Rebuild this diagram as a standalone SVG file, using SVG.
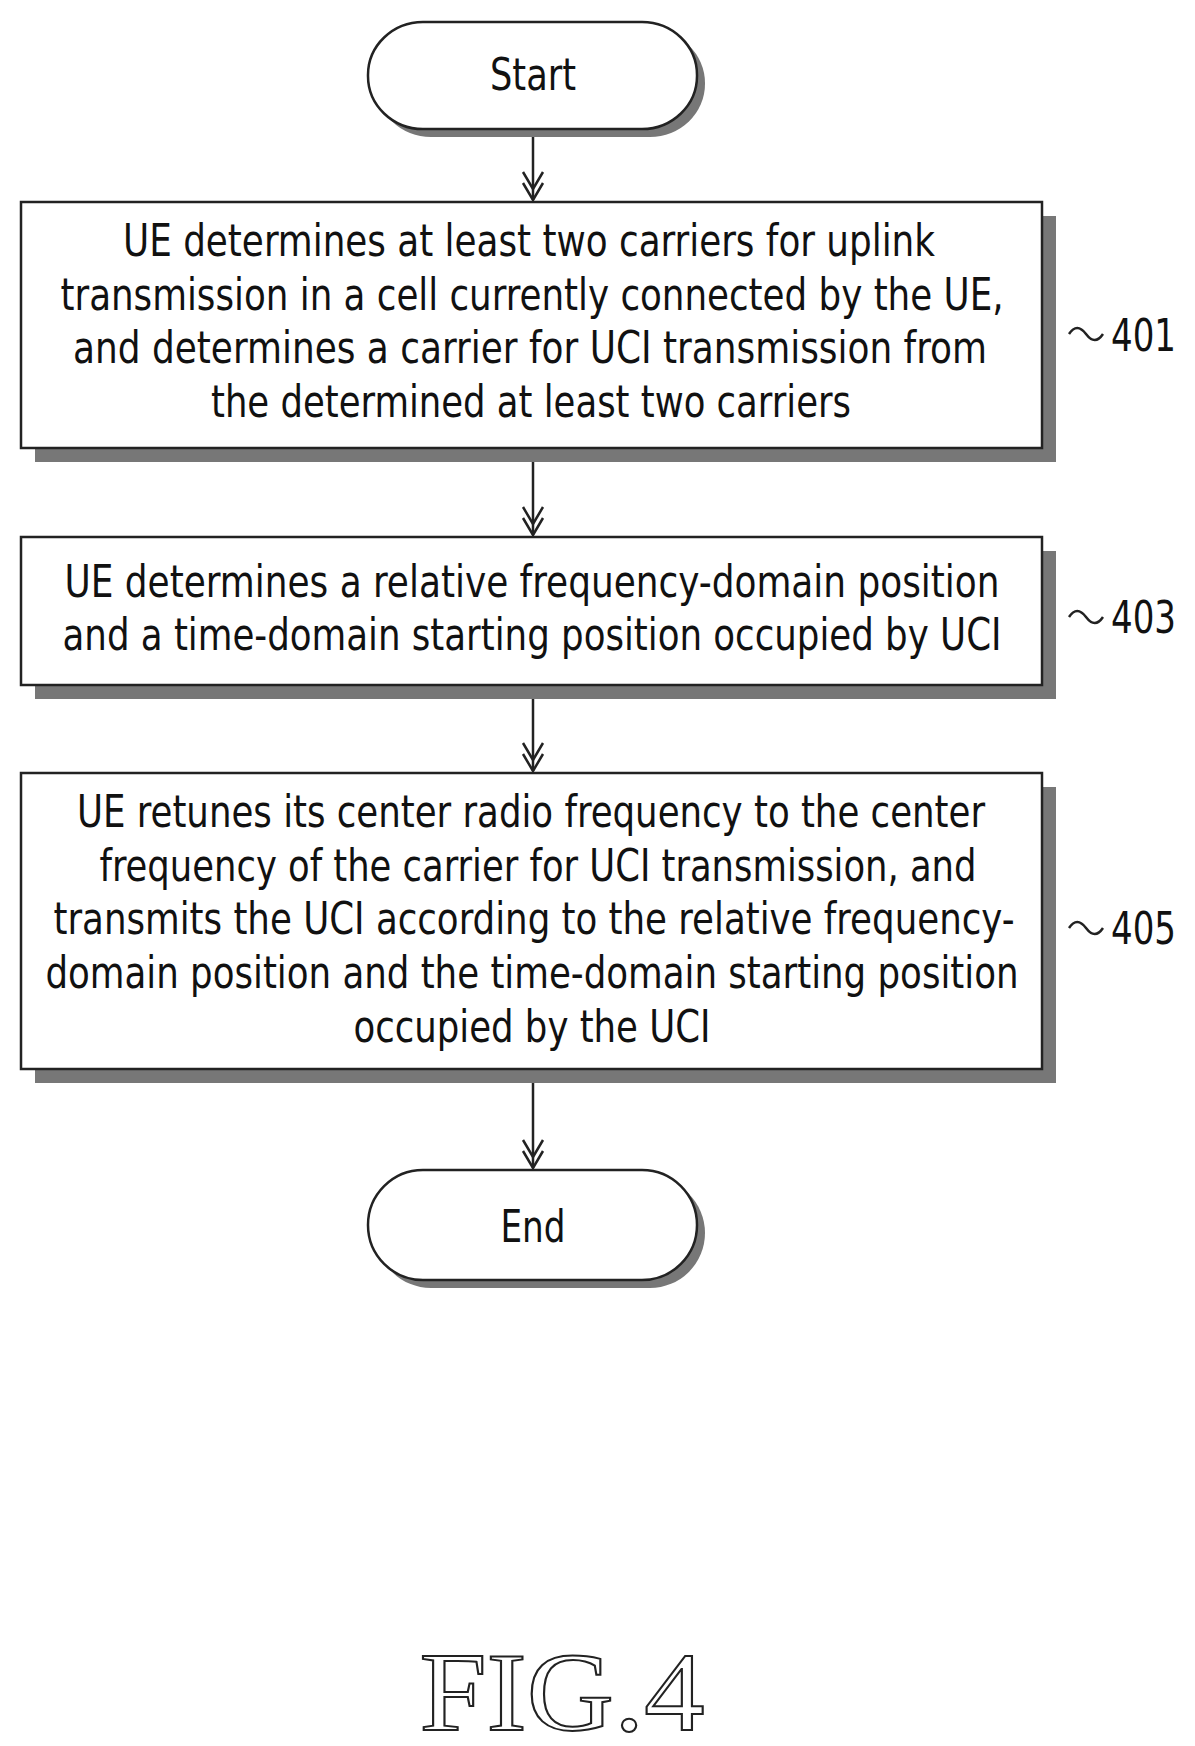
<svg xmlns="http://www.w3.org/2000/svg" width="1195" height="1746" viewBox="0 0 1195 1746">
<style>
.sh{fill:#777}
.bx{fill:#fff;stroke:#222;stroke-width:2.5}
.t{font-family:"DejaVu Sans Condensed","Liberation Sans",sans-serif;font-size:44px;fill:#111;text-anchor:middle}
.lb{font-family:"DejaVu Sans Condensed","Liberation Sans",sans-serif;font-size:44px;fill:#111}
.c{stroke:#222;stroke-width:2.5;fill:none}
.fig{font-family:"Liberation Serif",serif;font-size:112px;fill:#fff;stroke:#222;stroke-width:2;text-anchor:middle}
</style>
<g id="connectors">
<line class="c" x1="533" y1="129" x2="533" y2="200"/>
<line class="c" x1="533" y1="462" x2="533" y2="535"/>
<line class="c" x1="533" y1="699" x2="533" y2="771"/>
<line class="c" x1="533" y1="1082" x2="533" y2="1168"/>
<path class="c" d="M523,183 L533,200 L543,183 M523,172 L533,189 L543,172"/>
<path class="c" d="M523,518 L533,535 L543,518 M523,507 L533,524 L543,507"/>
<path class="c" d="M523,754 L533,771 L543,754 M523,743 L533,760 L543,743"/>
<path class="c" d="M523,1151 L533,1168 L543,1151 M523,1140 L533,1157 L543,1140"/>
<path class="c" d="M1069,334 q8,-12 17,0 t17,0"/>
<path class="c" d="M1069,617 q8,-12 17,0 t17,0"/>
<path class="c" d="M1069,928 q8,-12 17,0 t17,0"/>
</g>
<g id="start">
<rect class="sh" x="376" y="30" width="329" height="107" rx="55" ry="53"/>
<rect class="bx" x="368" y="22" width="329" height="107" rx="55" ry="53"/>
<text class="t" x="533" y="90" textLength="86" lengthAdjust="spacingAndGlyphs">Start</text>
</g>
<g id="n401">
<rect class="sh" x="35" y="216" width="1021" height="246"/>
<rect class="bx" x="21" y="202" width="1021" height="246"/>
<text class="t" x="529" y="256" textLength="812" lengthAdjust="spacingAndGlyphs">UE determines at least two carriers for uplink</text>
<text class="t" x="532" y="310" textLength="943" lengthAdjust="spacingAndGlyphs">transmission in a cell currently connected by the UE,</text>
<text class="t" x="530" y="363" textLength="914" lengthAdjust="spacingAndGlyphs">and determines a carrier for UCI transmission from</text>
<text class="t" x="531" y="417" textLength="640" lengthAdjust="spacingAndGlyphs">the determined at least two carriers</text>
<text class="lb" x="1111" y="351" textLength="65" lengthAdjust="spacingAndGlyphs">401</text>
</g>
<g id="n403">
<rect class="sh" x="35" y="551" width="1021" height="148"/>
<rect class="bx" x="21" y="537" width="1021" height="148"/>
<text class="t" x="532" y="597" textLength="935" lengthAdjust="spacingAndGlyphs">UE determines a relative frequency-domain position</text>
<text class="t" x="532" y="650" textLength="939" lengthAdjust="spacingAndGlyphs">and a time-domain starting position occupied by UCI</text>
<text class="lb" x="1111" y="633" textLength="65" lengthAdjust="spacingAndGlyphs">403</text>
</g>
<g id="n405">
<rect class="sh" x="35" y="787" width="1021" height="296"/>
<rect class="bx" x="21" y="773" width="1021" height="296"/>
<text class="t" x="531" y="827" textLength="908" lengthAdjust="spacingAndGlyphs">UE retunes its center radio frequency to the center</text>
<text class="t" x="538" y="881" textLength="877" lengthAdjust="spacingAndGlyphs">frequency of the carrier for UCI transmission, and</text>
<text class="t" x="534" y="934" textLength="961" lengthAdjust="spacingAndGlyphs">transmits the UCI according to the relative frequency-</text>
<text class="t" x="532" y="988" textLength="973" lengthAdjust="spacingAndGlyphs">domain position and the time-domain starting position</text>
<text class="t" x="532" y="1042" textLength="357" lengthAdjust="spacingAndGlyphs">occupied by the UCI</text>
<text class="lb" x="1111" y="944" textLength="65" lengthAdjust="spacingAndGlyphs">405</text>
</g>
<g id="end">
<rect class="sh" x="376" y="1178" width="329" height="110" rx="55" ry="55"/>
<rect class="bx" x="368" y="1170" width="329" height="110" rx="55" ry="55"/>
<text class="t" x="533" y="1242" textLength="65" lengthAdjust="spacingAndGlyphs">End</text>
</g>
<text class="fig" x="562" y="1730" textLength="285" lengthAdjust="spacingAndGlyphs">FIG.4</text>
</svg>
